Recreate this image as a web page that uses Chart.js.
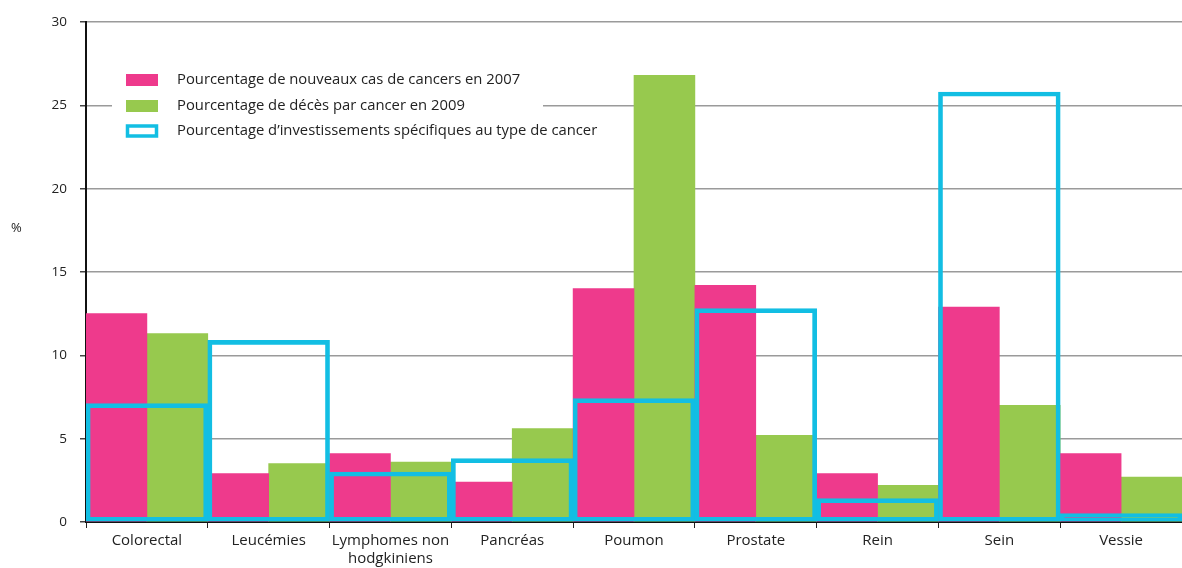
<!DOCTYPE html>
<html>
<head>
<meta charset="utf-8">
<script src="https://cdn.jsdelivr.net/npm/chart.js@4/dist/chart.umd.min.js"></script>
<style>
  html, body { margin: 0; padding: 0; background: #fff; }
  #wrap { width: 1182px; height: 568px; }
</style>
</head>
<body>
<div id="wrap"><canvas id="myChart" width="1182" height="568"></canvas></div>
<script>
let categories = ['Colorectal', 'Leucémies', ['Lymphomes non', 'hodgkiniens'], 'Pancréas', 'Poumon', 'Prostate', 'Rein', 'Sein', 'Vessie'];
let nouveauxCas = [12.5, 2.9, 4.1, 2.4, 14.0, 14.2, 2.9, 12.9, 4.1];
let deces = [11.3, 3.5, 3.6, 5.6, 26.8, 5.2, 2.2, 7.0, 2.7];
let investissements = [7.1, 10.9, 3.0, 3.8, 7.4, 12.8, 1.4, 25.8, 0.5];
let yTicks = [0, 5, 10, 15, 20, 25, 30];

const FONT = '"Open Sans", Lato, sans-serif';
const pink = '#EE3A8C';
const green = '#97C94E';
const blue = '#12BEE3';

// legend drawn inside the plot area, over a white box
let insideLegend = {
  id: 'insideLegend',
  afterDatasetsDraw(chart) {
    let ctx = chart.ctx;
    ctx.save();
    ctx.fillStyle = '#fff';
    ctx.fillRect(112, 62, 431, 88);
    let rows = [
      { ds: chart.data.datasets[1], y: 80 },
      { ds: chart.data.datasets[2], y: 106 },
      { ds: chart.data.datasets[0], y: 131 }
    ];
    rows.forEach(r => {
      if (r.ds.backgroundColor !== 'rgba(0,0,0,0)') {
        ctx.fillStyle = r.ds.backgroundColor;
        ctx.fillRect(126, r.y - 6, 32, 12);
      } else {
        ctx.strokeStyle = r.ds.borderColor;
        ctx.lineWidth = 3.5;
        ctx.strokeRect(127.5, r.y - 5, 29, 10);
      }
      ctx.fillStyle = '#222';
      ctx.font = '14.8px ' + FONT;
      ctx.textBaseline = 'middle';
      ctx.textAlign = 'left';
      ctx.fillText(r.ds.label, 177, r.y);
    });
    ctx.font = '13px ' + FONT;
    ctx.fillText('%', 11, 228);
    ctx.restore();
  }
};

let ctx = document.getElementById('myChart').getContext('2d');
let chart = new Chart(ctx, {
  type: 'bar',
  data: {
    labels: categories,
    datasets: [{
      label: 'Pourcentage d\u2019investissements spécifiques au type de cancer',
      data: investissements,
      stack: 'c',
      grouped: false,
      backgroundColor: 'rgba(0,0,0,0)',
      borderColor: blue,
      borderWidth: 4,
      borderSkipped: false
    }, {
      label: 'Pourcentage de nouveaux cas de cancers en 2007',
      data: nouveauxCas,
      stack: 'a',
      backgroundColor: pink
    }, {
      label: 'Pourcentage de décès par cancer en 2009',
      data: deces,
      stack: 'b',
      backgroundColor: green
    }]
  },
  options: {
    responsive: false,
    animation: false,
    devicePixelRatio: 1,
    layout: { padding: { top: 22, right: 0, left: 0, bottom: 0 } },
    datasets: { bar: { categoryPercentage: 1, barPercentage: 1 } },
    plugins: { legend: { display: false }, tooltip: { enabled: false } },
    scales: {
      x: {
        grid: { display: true, drawOnChartArea: false, color: '#222', tickLength: 6, offset: true },
        border: { color: '#111', width: 2 },
        ticks: { color: '#222', font: { family: FONT, size: 15, lineHeight: 1.2 }, padding: 4, maxRotation: 0, autoSkip: false },
        afterFit: s => { s.height = 46; }
      },
      y: {
        min: 0,
        max: 30,
        afterBuildTicks: s => { s.ticks = yTicks.map(v => ({ value: v })); },
        grid: { color: '#9a9a9a', lineWidth: 1.5, tickLength: 6, tickColor: '#444' },
        border: { color: '#111', width: 2 },
        ticks: { color: '#222', font: { family: FONT, size: 13.5 }, padding: 13 },
        afterFit: s => { s.width = 86; }
      }
    }
  },
  plugins: [insideLegend]
});
</script>
</body>
</html>
